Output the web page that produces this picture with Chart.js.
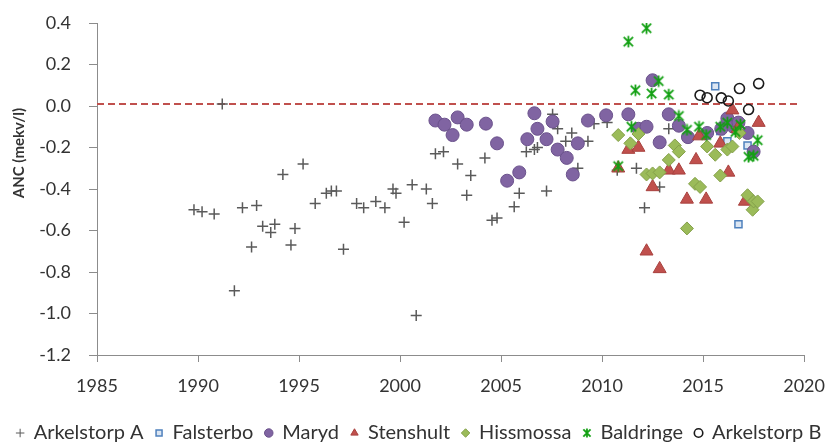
<!DOCTYPE html>
<html>
<head>
<meta charset="utf-8">
<script src="https://cdn.jsdelivr.net/npm/chart.js@4/dist/chart.umd.min.js"></script>
<style>
  html, body { margin: 0; padding: 0; background: #fff; }
  #wrap { width: 838px; height: 443px; }
</style>
</head>
<body>
<div id="wrap"><canvas id="chart" width="838" height="443"></canvas></div>
<script>
// ANC measurements per site: sampling year and value (mekv/l)
const arkelstorpAYears = [1989.8,1990.2,1990.8,1991.2,1991.8,1992.2,1992.65,1992.9,1993.2,1993.6,1993.8,1994.2,1994.6,1994.8,1995.2,1995.8,1996.35,1996.6,1996.85,1997.2,1997.85,1998.2,1998.8,1999.25,1999.65,1999.8,2000.2,2000.6,2000.8,2001.3,2001.6,2001.75,2002.15,2002.85,2003.3,2003.5,2004.2,2004.55,2004.8,2005.65,2005.9,2006.25,2006.65,2006.8,2007.25,2007.55,2007.8,2008.2,2008.5,2008.8,2009.3,2009.6,2010.25,2010.75,2011.7,2012.1,2012.85,2013.3];
const arkelstorpAValues = [-0.50,-0.51,-0.52,0.01,-0.89,-0.49,-0.68,-0.48,-0.58,-0.61,-0.57,-0.33,-0.67,-0.59,-0.28,-0.47,-0.42,-0.41,-0.41,-0.69,-0.47,-0.49,-0.46,-0.49,-0.40,-0.42,-0.56,-0.38,-1.01,-0.40,-0.47,-0.23,-0.22,-0.28,-0.43,-0.335,-0.25,-0.55,-0.54,-0.485,-0.42,-0.22,-0.21,-0.20,-0.41,-0.04,-0.11,-0.17,-0.13,-0.30,-0.17,-0.085,-0.08,-0.31,-0.30,-0.49,-0.39,-0.11];

const falsterboYears = [2015.6,2015.85,2016.2,2016.75,2017.2];
const falsterboValues = [0.095,-0.12,-0.17,-0.57,-0.19];

const marydYears = [2001.75,2002.2,2002.6,2002.85,2003.3,2004.25,2004.8,2005.3,2005.9,2006.3,2006.65,2006.8,2007.25,2007.55,2007.8,2008.25,2008.55,2008.8,2009.3,2010.2,2011.3,2011.8,2012.2,2012.5,2012.85,2013.3,2013.8,2014.25,2015.2,2015.9,2016.2,2016.5,2016.75,2017.2,2017.5];
const marydValues = [-0.07,-0.09,-0.14,-0.055,-0.09,-0.085,-0.18,-0.36,-0.32,-0.16,-0.035,-0.11,-0.16,-0.075,-0.21,-0.25,-0.33,-0.18,-0.07,-0.045,-0.04,-0.11,-0.10,0.124,-0.175,-0.04,-0.095,-0.15,-0.13,-0.11,-0.06,-0.10,-0.08,-0.13,-0.22];

const stenshultYears = [2010.8,2011.3,2011.8,2012.2,2012.5,2012.85,2013.3,2013.8,2014.2,2014.65,2014.8,2015.15,2015.85,2016.25,2016.45,2016.7,2017.07,2017.75];
const stenshultValues = [-0.30,-0.21,-0.20,-0.70,-0.39,-0.785,-0.31,-0.31,-0.45,-0.26,-0.145,-0.45,-0.18,-0.32,-0.02,-0.11,-0.46,-0.08];

const hissmossaYears = [2010.8,2011.4,2011.8,2012.2,2012.5,2012.85,2013.3,2013.6,2013.8,2014.2,2014.6,2014.85,2015.2,2015.6,2015.85,2016.2,2016.45,2016.8,2017.2,2017.45,2017.5,2017.7];
const hissmossaValues = [-0.14,-0.18,-0.135,-0.33,-0.325,-0.32,-0.26,-0.19,-0.22,-0.59,-0.375,-0.39,-0.195,-0.235,-0.335,-0.21,-0.195,-0.13,-0.43,-0.50,-0.46,-0.46];

const baldringeYears = [2010.8,2011.3,2011.45,2011.65,2012.2,2012.45,2012.8,2013.3,2013.8,2014.2,2014.8,2015.15,2015.85,2016.2,2016.6,2016.85,2017.25,2017.5,2017.7];
const baldringeValues = [-0.29,0.31,-0.10,0.076,0.375,0.06,0.12,0.055,-0.048,-0.115,-0.10,-0.14,-0.10,-0.08,-0.125,-0.09,-0.245,-0.24,-0.165];

const arkelstorpBYears = [2014.85,2015.2,2015.9,2016.25,2016.8,2017.25,2017.75];
const arkelstorpBValues = [0.052,0.04,0.039,0.024,0.084,-0.017,0.108];

// Reference level drawn as a dashed line
const referenceYears = [1985, 2019.7];
const referenceLevel = 0.01;

// Axis ranges and ticks
const yearTicks = [1985, 1990, 1995, 2000, 2005, 2010, 2015, 2020];
const ancMin = -1.2, ancMax = 0.4, ancStep = 0.2;

const toPoints = (xs, ys) => xs.map((x, i) => ({ x: x, y: ys[i] }));

// Asterisk-style marker (X with a vertical bar)
function makeStar(size, color, lw) {
  const c = document.createElement('canvas');
  c.width = size; c.height = size;
  const g = c.getContext('2d');
  g.strokeStyle = color; g.lineWidth = lw; g.lineCap = 'butt';
  const m = size / 2, a = size * 0.36, r = size * 0.45;
  g.beginPath();
  g.moveTo(m - a, m - a); g.lineTo(m + a, m + a);
  g.moveTo(m + a, m - a); g.lineTo(m - a, m + a);
  g.moveTo(m, m - r); g.lineTo(m, m + r);
  g.stroke();
  return c;
}
const starMarker = makeStar(13, '#12a012', 1.8);
const starLegend = makeStar(10, '#12a012', 1.8);

const FONT = 'Lato, "Liberation Sans", sans-serif';
const TEXT = '#333333';
const AXIS = '#8c8c8c';

const datasets = [
  { label: 'Arkelstorp A', data: toPoints(arkelstorpAYears, arkelstorpAValues),
    pointStyle: 'cross', pointRadius: 5.5, borderColor: '#5a5a5a', backgroundColor: '#5a5a5a', borderWidth: 1.5 },
  { label: 'Falsterbo', data: toPoints(falsterboYears, falsterboValues),
    pointStyle: 'rect', pointRadius: 5, borderColor: '#4f81bd', backgroundColor: '#dce6f2', borderWidth: 1.5 },
  { label: 'Maryd', data: toPoints(marydYears, marydValues),
    pointStyle: 'circle', pointRadius: 6.5, borderColor: '#6b528c', backgroundColor: '#8064a2', borderWidth: 1 },
  { label: 'Stenshult', data: toPoints(stenshultYears, stenshultValues),
    pointStyle: 'triangle', pointRadius: 7.5, borderColor: '#a8413e', backgroundColor: '#c0504d', borderWidth: 1 },
  { label: 'Hissmossa', data: toPoints(hissmossaYears, hissmossaValues),
    pointStyle: 'rectRot', pointRadius: 6.5, borderColor: '#84a04a', backgroundColor: '#9bbb59', borderWidth: 1 },
  { label: 'Baldringe', data: toPoints(baldringeYears, baldringeValues),
    pointStyle: starMarker, pointRadius: 6, borderColor: '#12a012', backgroundColor: '#12a012', borderWidth: 1.8 },
  { label: 'Arkelstorp B', data: toPoints(arkelstorpBYears, arkelstorpBValues),
    pointStyle: 'circle', pointRadius: 5, borderColor: '#1a1a1a', backgroundColor: 'rgba(255,255,255,0)', borderWidth: 1.6 },
  { label: '_ref', type: 'line', data: referenceYears.map(x => ({ x: x, y: referenceLevel })),
    borderColor: '#c0504d', borderWidth: 2, borderDash: [7, 4], pointRadius: 0, fill: false, showLine: true }
];
// later series sit on top; the reference line stays underneath
datasets.forEach((d, i) => { d.order = datasets.length - i; });
datasets[datasets.length - 1].order = 100;

// Rotated y axis title placed beside the axis
const yTitle = {
  id: 'yTitle',
  afterDraw(chart) {
    const ctx = chart.ctx;
    ctx.save();
    ctx.translate(19, 153);
    ctx.rotate(-Math.PI / 2);
    ctx.font = 'bold 15px ' + FONT;
    ctx.fillStyle = TEXT;
    ctx.textAlign = 'center';
    ctx.textBaseline = 'middle';
    ctx.fillText('ANC (mekv/l)', 0, 0);
    ctx.restore();
  }
};

new Chart(document.getElementById('chart'), {
  type: 'scatter',
  data: { datasets: datasets },
  plugins: [yTitle],
  options: {
    responsive: false,
    animation: false,
    layout: { padding: { top: 23, right: 0, left: 0, bottom: -10 } },
    plugins: {
      tooltip: { enabled: false },
      legend: {
        position: 'bottom',
        labels: {
          usePointStyle: true,
          boxWidth: 7, boxHeight: 6,
          padding: 12,
          color: TEXT,
          font: { family: FONT, size: 20 },
          filter: item => item.text !== '_ref',
          sort: (a, b) => a.datasetIndex - b.datasetIndex,
          generateLabels(chart) {
            const items = Chart.defaults.plugins.legend.labels.generateLabels(chart);
            items.forEach(it => {
              if (it.text === 'Baldringe') it.pointStyle = starLegend;
              if (it.text === 'Arkelstorp A') it.lineWidth = 1;
            });
            return items;
          }
        }
      }
    },
    scales: {
      x: {
        type: 'linear', min: 1985, max: 2020,
        afterBuildTicks: s => { s.ticks = yearTicks.map(v => ({ value: v })); },
        afterFit: s => { s.height = 56; },
        grid: { display: true, drawOnChartArea: false, drawTicks: true, tickLength: 7, color: AXIS, lineWidth: 1 },
        border: { display: true, color: AXIS, width: 1 },
        ticks: { color: TEXT, font: { family: FONT, size: 18 }, padding: 13, maxRotation: 0,
                 callback: v => String(v) }
      },
      y: {
        type: 'linear', min: ancMin, max: ancMax,
        afterFit: s => { s.width = 97; s.paddingTop = 0; s.paddingBottom = 0; },
        grid: { display: true, drawOnChartArea: false, drawTicks: true, tickLength: 8, color: AXIS, lineWidth: 1 },
        border: { display: true, color: AXIS, width: 1 },
        ticks: { stepSize: ancStep, color: TEXT, font: { family: FONT, size: 18 }, padding: 18,
                 callback: v => Number(v).toFixed(1) }
      },
      // empty strip on the right so the plot ends short of the edge
      gutter: {
        type: 'linear', position: 'right', display: true,
        afterFit: s => { s.width = 25; s.paddingTop = 0; s.paddingBottom = 0; },
        grid: { display: false }, border: { display: false },
        ticks: { display: false }
      }
    }
  }
});
</script>
</body>
</html>
